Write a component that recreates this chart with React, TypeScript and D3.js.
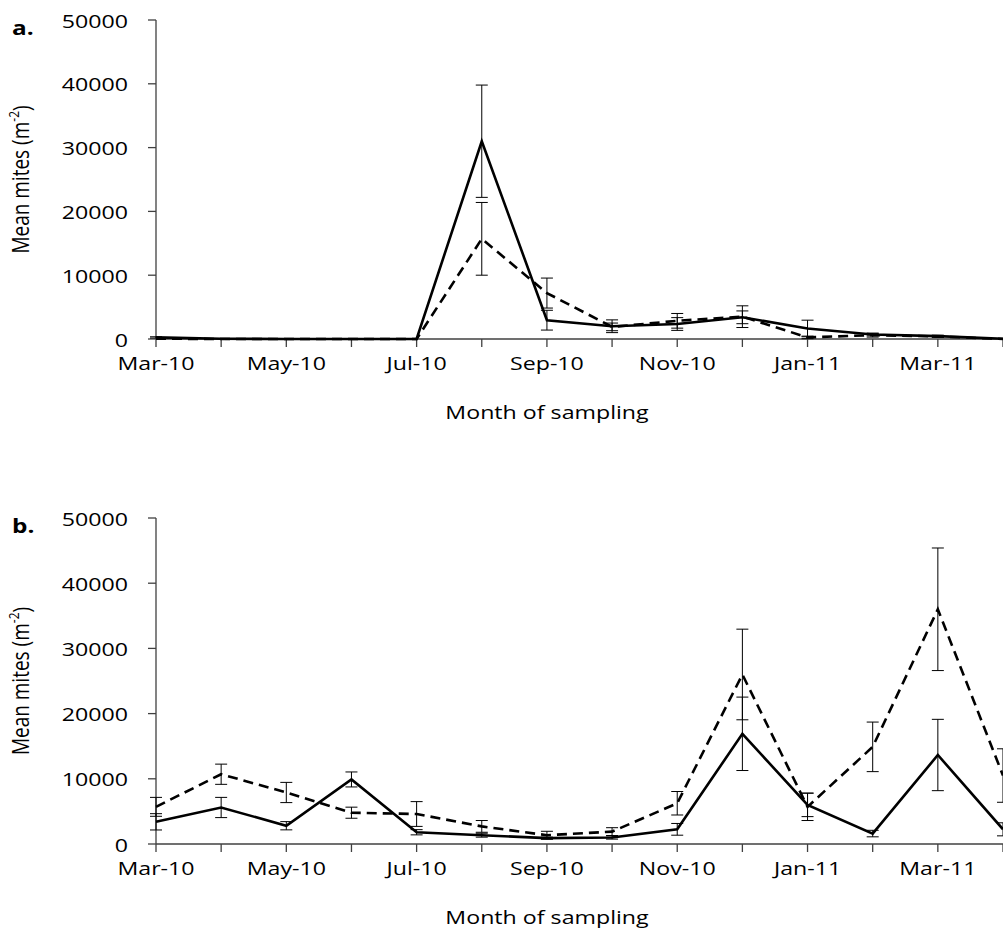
import React from "react";
import * as d3 from "d3";

// Sampling months (category axis) and every-other-month tick labels
const months = [
  "Mar-10", "Apr-10", "May-10", "Jun-10", "Jul-10", "Aug-10", "Sep-10",
  "Oct-10", "Nov-10", "Dec-10", "Jan-11", "Feb-11", "Mar-11", "Apr-11",
];
const monthLabels = ["Mar-10", "May-10", "Jul-10", "Sep-10", "Nov-10", "Jan-11", "Mar-11"];
const yTicks = [0, 10000, 20000, 30000, 40000, 50000];

// Panel a: mean mites per m² and standard errors
const aSolid = [250, 50, 0, 0, 0, 31000, 2950, 2000, 2350, 3400, 1650, 700, 450, 50];
const aSolidErr = [100, 0, 0, 0, 0, 8800, 1550, 1000, 1000, 1000, 1300, 200, 150, 0];
const aDashed = [50, 0, 0, 0, 0, 15700, 7200, 1900, 2850, 3500, 250, 600, 400, 0];
const aDashedErr = [0, 0, 0, 0, 0, 5700, 2350, 600, 1150, 1700, 200, 300, 150, 0];

// Panel b
const bSolid = [3400, 5600, 2800, 9900, 1800, 1350, 900, 1000, 2250, 16900, 6000, 1600, 13650, 2250];
const bSolidErr = [1250, 1550, 630, 1150, 400, 300, 150, 250, 900, 5630, 1800, 500, 5470, 1000];
const bDashed = [5700, 10700, 7900, 4800, 4600, 2700, 1350, 1900, 6250, 26000, 5700, 14900, 36000, 10500];
const bDashedErr = [1450, 1550, 1550, 850, 1900, 900, 600, 600, 1800, 6950, 2100, 3800, 9400, 4100];

const FONT = "'Open Sans', 'Noto Sans', sans-serif";
const SX = 1.22; // horizontal widening of the lettering

type PanelProps = {
  label: string;
  top: number;
  bottom: number;
  solid: number[];
  solidErr: number[];
  dashed: number[];
  dashedErr: number[];
};

function Panel({ label, top, bottom, solid, solidErr, dashed, dashedErr }: PanelProps) {
  const x0 = 156;
  const x1 = 1003;
  const x = d3.scalePoint<string>().domain(months).range([x0, x1]);
  const y = d3.scaleLinear().domain([0, 50000]).range([bottom, top]);

  const line = d3
    .line<number>()
    .x((_, i) => x(months[i]) as number)
    .y((v) => y(v));

  const errBars = (vals: number[], errs: number[], key: string) =>
    vals.map((v, i) => {
      const e = errs[i];
      if (!e) return null;
      const cx = x(months[i]) as number;
      const yt = y(v + e);
      const yb = y(Math.max(0, v - e));
      return (
        <g key={key + i} stroke="#000" strokeWidth={1}>
          <line x1={cx} x2={cx} y1={yt} y2={yb} />
          <line x1={cx - 6} x2={cx + 6} y1={yt} y2={yt} />
          <line x1={cx - 6} x2={cx + 6} y1={yb} y2={yb} />
        </g>
      );
    });

  const midY = (top + bottom) / 2;

  return (
    <g fontFamily={FONT} fill="#000">
      {/* panel letter */}
      <text transform={`translate(12,${top + 15}) scale(${SX},1)`} fontSize={20} fontWeight="bold">
        {label}
      </text>

      {/* y axis title */}
      <text
        transform={`translate(23,${midY}) scale(${SX},1) rotate(-90)`}
        fontSize={19}
        textAnchor="middle"
        dominantBaseline="middle"
      >
        Mean mites (m
        <tspan fontSize={12} dy={-7}>-2</tspan>
        <tspan dy={7}>)</tspan>
      </text>

      {/* y axis */}
      <line x1={x0} x2={x0} y1={top} y2={bottom} stroke="#404040" strokeWidth={1.3} />
      {yTicks.map((t) => (
        <g key={"yt" + t}>
          <line x1={x0 - 8} x2={x0} y1={y(t)} y2={y(t)} stroke="#404040" strokeWidth={1.3} />
          <text
            transform={`translate(128,${y(t)}) scale(${SX},1)`}
            fontSize={19}
            textAnchor="end"
            dominantBaseline="central"
          >
            {t}
          </text>
        </g>
      ))}

      {/* x axis */}
      <line x1={x0} x2={x1 + 10} y1={bottom} y2={bottom} stroke="#404040" strokeWidth={1.3} />
      {months.map((m) => (
        <line
          key={"xt" + m}
          x1={x(m) as number}
          x2={x(m) as number}
          y1={bottom}
          y2={bottom + 8}
          stroke="#404040"
          strokeWidth={1.3}
        />
      ))}
      {monthLabels.map((m) => (
        <text
          key={"xl" + m}
          transform={`translate(${x(m)},${bottom + 31}) scale(${SX},1)`}
          fontSize={19}
          textAnchor="middle"
        >
          {m}
        </text>
      ))}
      <text
        transform={`translate(547,${bottom + 80}) scale(${SX},1)`}
        fontSize={19}
        textAnchor="middle"
      >
        Month of sampling
      </text>

      {/* series */}
      <path d={line(dashed) || ""} fill="none" stroke="#000" strokeWidth={2.6} strokeDasharray="10,6" />
      <path d={line(solid) || ""} fill="none" stroke="#000" strokeWidth={2.6} />
      {errBars(solid, solidErr, "se")}
      {errBars(dashed, dashedErr, "de")}
    </g>
  );
}

export default function App() {
  return (
    <svg
      width={1003}
      height={949}
      style={{ position: "absolute", left: 0, top: 0, background: "#fff" }}
    >
      <rect width={1003} height={949} fill="#fff" />
      <Panel
        label="a."
        top={20}
        bottom={339}
        solid={aSolid}
        solidErr={aSolidErr}
        dashed={aDashed}
        dashedErr={aDashedErr}
      />
      <Panel
        label="b."
        top={518}
        bottom={844}
        solid={bSolid}
        solidErr={bSolidErr}
        dashed={bDashed}
        dashedErr={bDashedErr}
      />
    </svg>
  );
}
